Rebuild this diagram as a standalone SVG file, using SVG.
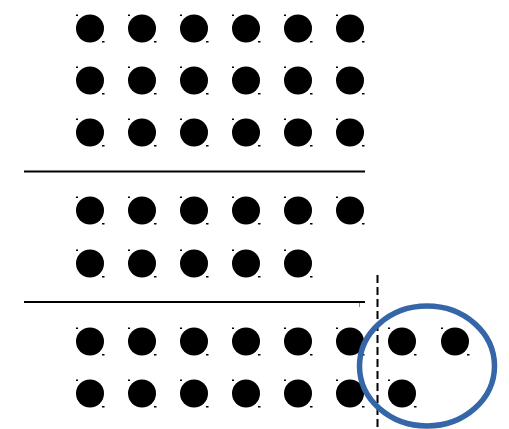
<svg xmlns="http://www.w3.org/2000/svg" xmlns:xlink="http://www.w3.org/1999/xlink" width="509" height="429" viewBox="0 0 509 429">
<defs>
<style>
.d{fill:#000}
.m{fill:#000}
</style>
<g id="dot">
<rect class="m" x="-14" y="-14" width="2" height="1.5"/>
<circle class="d" r="14"/>
<rect class="m" x="12" y="12.5" width="2.5" height="1.5"/>
</g>
</defs>
<rect width="509" height="429" fill="#fff"/>
<g id="row1">
<use href="#dot" x="90" y="28.5"/><use href="#dot" x="142" y="28.5"/><use href="#dot" x="194" y="28.5"/><use href="#dot" x="246" y="28.5"/><use href="#dot" x="298" y="28.5"/><use href="#dot" x="350" y="28.5"/>
</g>
<g id="row2">
<use href="#dot" x="90" y="80.5"/><use href="#dot" x="142" y="80.5"/><use href="#dot" x="194" y="80.5"/><use href="#dot" x="246" y="80.5"/><use href="#dot" x="298" y="80.5"/><use href="#dot" x="350" y="80.5"/>
</g>
<g id="row3">
<use href="#dot" x="90" y="132.5"/><use href="#dot" x="142" y="132.5"/><use href="#dot" x="194" y="132.5"/><use href="#dot" x="246" y="132.5"/><use href="#dot" x="298" y="132.5"/><use href="#dot" x="350" y="132.5"/>
</g>
<g id="row4">
<use href="#dot" x="90" y="210.5"/><use href="#dot" x="142" y="210.5"/><use href="#dot" x="194" y="210.5"/><use href="#dot" x="246" y="210.5"/><use href="#dot" x="298" y="210.5"/><use href="#dot" x="350" y="210.5"/>
</g>
<g id="row5">
<use href="#dot" x="90" y="263.5"/><use href="#dot" x="142" y="263.5"/><use href="#dot" x="194" y="263.5"/><use href="#dot" x="246" y="263.5"/><use href="#dot" x="298" y="263.5"/>
</g>
<g id="row6">
<use href="#dot" x="90" y="341.5"/><use href="#dot" x="142" y="341.5"/><use href="#dot" x="194" y="341.5"/><use href="#dot" x="246" y="341.5"/><use href="#dot" x="298" y="341.5"/><use href="#dot" x="350" y="341.5"/><use href="#dot" x="402" y="341.5"/><use href="#dot" x="455" y="341.5"/>
</g>
<g id="row7">
<use href="#dot" x="90" y="393.5"/><use href="#dot" x="142" y="393.5"/><use href="#dot" x="194" y="393.5"/><use href="#dot" x="246" y="393.5"/><use href="#dot" x="298" y="393.5"/><use href="#dot" x="350" y="393.5"/><use href="#dot" x="402" y="393.5"/>
</g>
<g id="lines">
<line x1="24" y1="171.5" x2="365" y2="171.5" stroke="#000" stroke-width="2"/>
<line x1="24" y1="302" x2="365" y2="302" stroke="#000" stroke-width="2"/>
<line x1="359.5" y1="303" x2="359.5" y2="307" stroke="#6f8fbf" stroke-width="1"/>
<line x1="377.5" y1="275" x2="377.5" y2="429" stroke="#000" stroke-width="2" stroke-dasharray="8,4"/>
</g>
<g id="circle">
<ellipse cx="427" cy="366" rx="67.5" ry="60" fill="none" stroke="#3466a8" stroke-width="5.5"/>
</g>
</svg>
